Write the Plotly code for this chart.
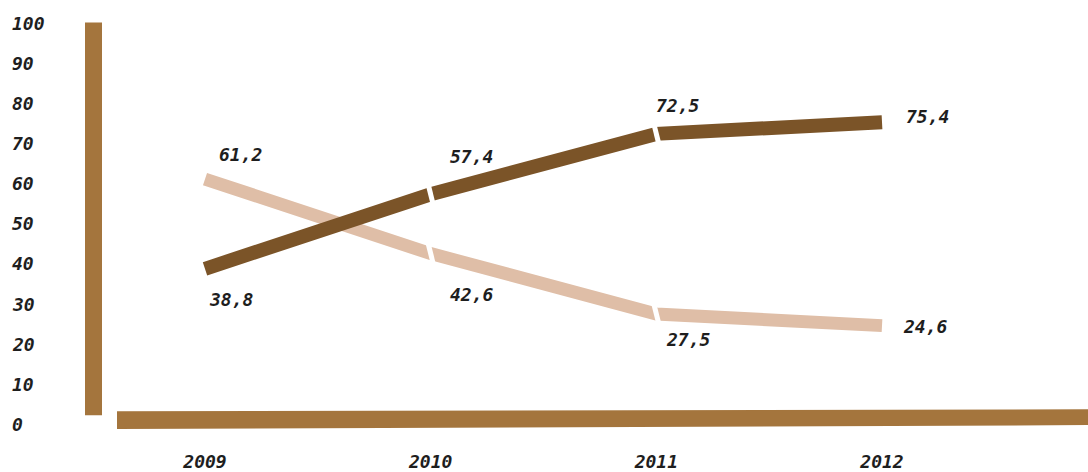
import plotly.graph_objects as go

# Survey shares per year (percent)
years = [2009, 2010, 2011, 2012]
year_labels = ["2009", "2010", "2011", "2012"]
series_dark = [38.8, 57.4, 72.5, 75.4]
series_light = [61.2, 42.6, 27.5, 24.6]
y_ticks = [0, 10, 20, 30, 40, 50, 60, 70, 80, 90, 100]

DARK = "#7b5428"
LIGHT = "#dfbea7"
AXIS = "#a4753d"
TEXT = "#1e1e1e"
FONT = "DejaVu Sans Mono"

W, H = 1088, 472


def fmt(v):
    return f"{v:.1f}".replace(".", ",")


def text_font(size):
    return dict(family=FONT, size=size, color=TEXT, style="italic", weight="bold")


fig = go.Figure()

for vals, color, width in [(series_light, LIGHT, 13), (series_dark, DARK, 14)]:
    fig.add_trace(go.Scatter(
        x=years, y=vals, mode="lines",
        line=dict(color=color, width=width),
        hoverinfo="skip", showlegend=False,
    ))
    # small white breaks where the line passes the inner years
    fig.add_trace(go.Scatter(
        x=years[1:-1], y=vals[1:-1], mode="markers",
        marker=dict(symbol="line-ns", size=22, angle=-14,
                    line=dict(color="white", width=5)),
        hoverinfo="skip", showlegend=False,
    ))

# value labels: offsets in pixels from each point
dark_offsets = [(26, 31), (41, -38), (22, -28), (45, -6)]
light_offsets = [(35, -25), (41, 41), (32, 25), (43, 1)]
annotations = []
for vals, offs in [(series_dark, dark_offsets), (series_light, light_offsets)]:
    for x, v, (dx, dy) in zip(years, vals, offs):
        annotations.append(dict(
            x=x, y=v, xref="x", yref="y", text=fmt(v), showarrow=False,
            xshift=dx, yshift=-dy, font=text_font(18),
        ))

# left-aligned value scale
for t in y_ticks:
    annotations.append(dict(
        x=10 / W, y=t, xref="paper", yref="y", text=str(t), showarrow=False,
        xanchor="left", yanchor="middle", font=text_font(18),
    ))

shapes = [
    # thick vertical scale bar
    dict(type="rect", xref="paper", yref="y",
         x0=85 / W, x1=102 / W, y0=2.2, y1=100.3,
         fillcolor=AXIS, line=dict(width=0), layer="below"),
    # thick baseline bar
    dict(type="path", xref="paper", yref="y",
         path=f"M {117 / W},3.2 L 1,3.7 L 1,-0.25 L {117 / W},-1.25 Z",
         fillcolor=AXIS, line=dict(width=0), layer="below"),
]

px_per_year = 225.67
scale = 4.04  # pixels per percent
fig.update_layout(
    width=W, height=H,
    margin=dict(l=0, r=0, t=0, b=32),
    paper_bgcolor="white", plot_bgcolor="white",
    xaxis=dict(
        range=[2009 - 205 / px_per_year, 2009 + 883 / px_per_year],
        tickvals=years, ticktext=year_labels,
        showgrid=False, zeroline=False, showline=False, ticks="",
        ticklabelstandoff=13,
        tickfont=text_font(18),
    ),
    yaxis=dict(
        range=[(428 - 440) / scale, 428 / scale],
        showgrid=False, zeroline=False, showline=False,
        showticklabels=False, ticks="",
    ),
    annotations=annotations,
    shapes=shapes,
)

fig.write_html("out.html")
